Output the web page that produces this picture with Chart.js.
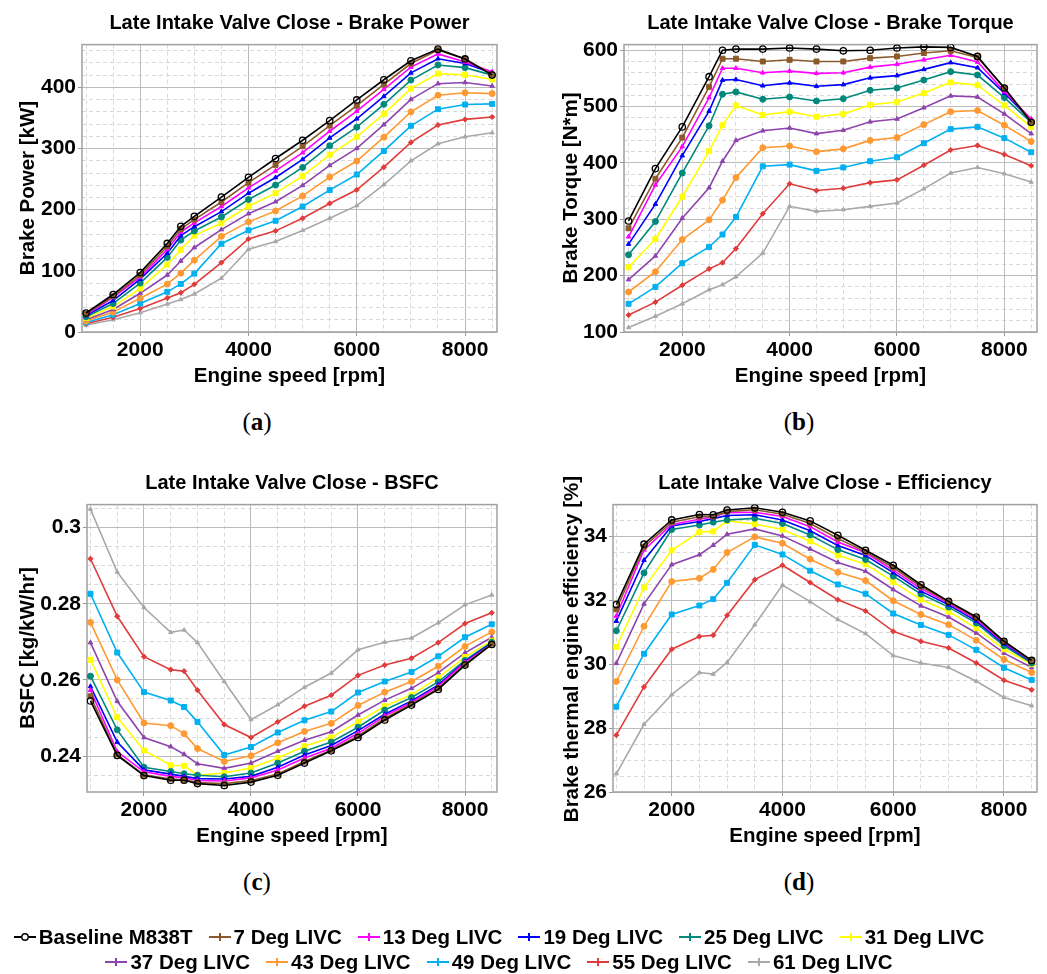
<!DOCTYPE html>
<html><head><meta charset="utf-8">
<script src="https://cdn.jsdelivr.net/npm/chart.js@4"></script>
<style>
body{margin:0;background:#fff;width:1047px;height:974px;position:relative;overflow:hidden;font-family:"Liberation Sans",Arial,sans-serif;color:#000;}
canvas{position:absolute;}
.ttl{position:absolute;text-align:center;font-weight:bold;font-size:20px;line-height:24px;white-space:nowrap;}
.ytl{position:absolute;text-align:center;font-weight:bold;font-size:20.5px;line-height:24px;white-space:nowrap;width:420px;transform:rotate(-90deg);}
.cap{position:absolute;font-family:"Liberation Serif","Times New Roman",serif;font-size:25px;line-height:28px;text-align:center;width:60px;}
#legend{position:absolute;left:0;top:924px;width:998px;font-weight:bold;font-size:20.5px;}
.row{display:flex;justify-content:center;align-items:center;height:25px;}
.item{display:flex;align-items:center;margin:0 8px;white-space:nowrap;}
.item svg{margin-right:3px;}
</style>
</head><body>
<canvas id="cA" width="520" height="365" style="left:0;top:30px"></canvas>
<canvas id="cB" width="527" height="365" style="left:520px;top:30px"></canvas>
<canvas id="cC" width="520" height="365" style="left:0;top:490px"></canvas>
<canvas id="cD" width="527" height="365" style="left:520px;top:490px"></canvas>

<div class="ttl" style="left:82px;width:415px;top:10px">Late Intake Valve Close - Brake Power</div>
<div class="ttl" style="left:624px;width:413px;top:10px">Late Intake Valve Close - Brake Torque</div>
<div class="ttl" style="left:87px;width:410px;top:470px">Late Intake Valve Close - BSFC</div>
<div class="ttl" style="left:613px;width:424px;top:470px">Late Intake Valve Close - Efficiency</div>

<div class="ytl" style="left:-183px;top:176px">Brake Power [kW]</div>
<div class="ytl" style="left:360px;top:176px">Brake Torque [N*m]</div>
<div class="ytl" style="left:-183px;top:636px">BSFC [kg/kW/hr]</div>
<div class="ytl" style="left:361px;top:637px">Brake thermal engine efficiency [%]</div>

<div class="cap" style="left:227px;top:408px">(<b>a</b>)</div>
<div class="cap" style="left:769px;top:408px">(<b>b</b>)</div>
<div class="cap" style="left:227px;top:868px">(<b>c</b>)</div>
<div class="cap" style="left:769px;top:868px">(<b>d</b>)</div>

<div id="legend"></div>

<script>
const rpm = [1000,1500,2000,2500,2750,3000,3500,4000,4500,5000,5500,6000,6500,7000,7500,8000,8500];
const seriesNames = ['Baseline M838T','7 Deg LIVC','13 Deg LIVC','19 Deg LIVC','25 Deg LIVC','31 Deg LIVC','37 Deg LIVC','43 Deg LIVC','49 Deg LIVC','55 Deg LIVC','61 Deg LIVC'];

const brakePower = [
 [31.1,61.3,97.2,144.8,172.8,189.1,220.6,253.0,283.7,313.6,345.6,379.5,412.5,443.5,462.6,446.5,420.1],
 [29.7,58.4,93.2,140.1,168.5,183.8,212.6,244.2,273.3,303.7,337.5,370.1,405.0,439.1,461.0,446.5,421.0],
 [28.2,56.7,89.9,135.1,163.6,178.4,205.3,235.8,263.4,293.2,328.3,361.3,396.8,433.2,454.7,441.5,425.5],
 [26.8,51.4,86.5,128.8,157.5,172.2,196.8,227.0,252.6,282.2,317.4,348.7,385.3,423.7,446.9,439.0,423.7],
 [24.8,46.5,80.0,122.0,150.3,165.2,188.0,216.6,240.3,269.1,304.7,334.9,372.3,412.0,436.7,432.3,420.1],
 [22.5,41.6,71.2,110.2,134.5,157.7,177.8,205.7,227.1,255.0,289.7,319.2,356.7,398.0,422.5,420.6,413.0],
 [20.2,36.9,63.3,93.2,116.1,138.2,167.5,193.5,213.0,239.8,272.4,300.3,339.0,380.4,406.1,408.0,402.3],
 [17.9,32.5,55.3,78.3,96.2,117.5,156.5,180.1,197.9,222.5,253.4,279.6,318.6,359.9,387.2,391.2,389.9],
 [15.7,28.3,46.5,65.7,78.6,95.5,144.4,166.3,181.9,205.3,232.1,257.6,296.1,337.2,364.4,372.0,373.0],
 [13.6,24.0,38.3,55.5,64.2,77.9,113.6,152.1,165.4,185.9,210.2,232.5,269.5,310.1,338.5,347.7,351.6],
 [11.3,20.1,31.4,45.8,53.0,62.2,88.0,135.3,148.0,166.0,186.0,206.7,241.0,280.0,307.9,319.2,325.8]
];
const brakeTorque = [
 [297,390,464,553,600,602,602,604,602,599,600,604,606,605,589,533,472],
 [284,372,445,535,585,585,580,583,580,580,586,589,595,599,587,533,473],
 [269,361,429,516,568,568,560,563,559,560,570,575,583,591,579,527,478],
 [256,327,413,492,547,548,537,542,536,539,551,555,566,578,569,524,476],
 [237,296,382,466,522,526,513,517,510,514,529,533,547,562,556,516,472],
 [215,265,340,421,467,502,485,491,482,487,503,508,524,543,538,502,464],
 [193,235,302,356,403,440,457,462,452,458,473,478,498,519,517,487,452],
 [171,207,264,299,334,374,427,430,420,425,440,445,468,491,493,467,438],
 [150,180,222,251,273,304,394,397,386,392,403,410,435,460,464,444,419],
 [130,153,183,212,223,248,310,363,351,355,365,370,396,423,431,415,395],
 [108,128,150,175,184,198,240,323,314,317,323,329,354,382,392,381,366]
];
const bsfc = [
 [0.2545,0.2402,0.2349,0.2337,0.2337,0.2328,0.2323,0.2332,0.2350,0.2382,0.2414,0.2449,0.2495,0.2534,0.2575,0.2639,0.2693],
 [0.2557,0.2404,0.2351,0.2340,0.2338,0.2331,0.2328,0.2336,0.2353,0.2386,0.2416,0.2453,0.2499,0.2537,0.2578,0.2641,0.2695],
 [0.2573,0.2412,0.2359,0.2347,0.2343,0.2336,0.2335,0.2343,0.2364,0.2395,0.2421,0.2460,0.2505,0.2541,0.2583,0.2646,0.2694],
 [0.2583,0.2437,0.2364,0.2353,0.2347,0.2341,0.2340,0.2347,0.2371,0.2403,0.2428,0.2467,0.2510,0.2545,0.2587,0.2648,0.2697],
 [0.2610,0.2469,0.2371,0.2360,0.2354,0.2350,0.2346,0.2356,0.2382,0.2413,0.2437,0.2476,0.2521,0.2554,0.2595,0.2651,0.2699],
 [0.2653,0.2502,0.2415,0.2376,0.2375,0.2350,0.2356,0.2369,0.2395,0.2426,0.2449,0.2490,0.2531,0.2561,0.2606,0.2660,0.2703],
 [0.2698,0.2544,0.2449,0.2425,0.2405,0.2380,0.2368,0.2382,0.2413,0.2442,0.2464,0.2508,0.2547,0.2578,0.2619,0.2671,0.2712],
 [0.2751,0.2600,0.2487,0.2480,0.2459,0.2420,0.2386,0.2401,0.2435,0.2465,0.2486,0.2533,0.2568,0.2596,0.2636,0.2688,0.2726],
 [0.2826,0.2672,0.2568,0.2546,0.2529,0.2490,0.2403,0.2424,0.2462,0.2494,0.2517,0.2567,0.2596,0.2621,0.2662,0.2712,0.2746],
 [0.2918,0.2767,0.2661,0.2627,0.2623,0.2573,0.2483,0.2449,0.2490,0.2531,0.2560,0.2612,0.2639,0.2657,0.2698,0.2748,0.2776],
 [0.3048,0.2883,0.2790,0.2725,0.2731,0.2698,0.2596,0.2496,0.2535,0.2581,0.2618,0.2679,0.2699,0.2710,0.2750,0.2797,0.2823]
];
const efficiency = [
 [31.87,33.76,34.52,34.69,34.68,34.83,34.90,34.76,34.49,34.04,33.57,33.10,32.49,31.97,31.48,30.72,30.12],
 [31.72,33.68,34.45,34.62,34.62,34.78,34.84,34.70,34.41,33.94,33.52,33.03,32.43,31.95,31.45,30.71,30.10],
 [31.51,33.58,34.38,34.54,34.61,34.75,34.76,34.63,34.31,33.83,33.49,32.95,32.37,31.91,31.41,30.68,30.10],
 [31.35,33.26,34.33,34.47,34.56,34.66,34.68,34.52,34.18,33.72,33.41,32.87,32.29,31.86,31.35,30.64,30.08],
 [31.05,32.86,34.22,34.36,34.45,34.52,34.57,34.41,34.05,33.59,33.28,32.76,32.20,31.79,31.29,30.58,30.04],
 [30.54,32.40,33.57,34.14,34.16,34.49,34.39,34.22,33.85,33.41,33.13,32.58,32.03,31.65,31.13,30.47,30.00],
 [30.03,31.89,33.12,33.43,33.73,34.07,34.24,34.02,33.61,33.19,32.91,32.34,31.83,31.48,30.98,30.35,29.90],
 [29.46,31.19,32.59,32.69,32.97,33.50,33.99,33.79,33.29,32.88,32.62,31.99,31.56,31.24,30.75,30.15,29.74],
 [28.67,30.33,31.56,31.84,32.04,32.55,33.74,33.44,32.93,32.50,32.21,31.59,31.23,30.92,30.45,29.89,29.51],
 [27.78,29.29,30.47,30.87,30.91,31.53,32.65,33.10,32.56,32.02,31.67,31.03,30.72,30.51,30.04,29.50,29.20],
 [26.57,28.12,29.05,29.74,29.69,30.06,31.24,32.48,31.96,31.40,30.96,30.27,30.04,29.90,29.47,28.96,28.70]
];

const xTicks = [2000,4000,6000,8000];
const xMinorTicks = [1000,1500,2000,2500,3000,3500,4000,4500,5000,5500,6000,6500,7000,7500,8000,8500];
const powerTicks = [0,100,200,300,400];
const torqueTicks = [100,200,300,400,500,600];
const bsfcTicks = [0.24,0.26,0.28,0.30];
const effTicks = [26,28,30,32,34];

// styles
const colors = ['#000000','#8B5A2B','#FF00FF','#0000FF','#00897B','#FFFF00','#8E44AD','#FF9933','#00B0F0','#E03C3C','#A9A9A9'];
const pointStyles = ['circle','rect','triangle','triangle','circle','rect','triangle','circle','rect','rectRot','triangle'];
const pointRadii = [3.2,3.5,2.6,2.6,3,3.5,2.6,3,3.5,2.6,2.4];

const tickFont = {family:'"Liberation Sans", Arial, sans-serif', size:21, weight:'bold'};
const xTitleFont = {family:'"Liberation Sans", Arial, sans-serif', size:20.5, weight:'bold'};
const fmt = v => String(+(+v).toFixed(4));

const framePlugin = {
  id:'frame',
  beforeDatasetsDraw(chart){
    const {ctx, chartArea:a} = chart;
    ctx.save();
    ctx.strokeStyle = '#a0a0a0';
    ctx.lineWidth = 1.5;
    ctx.strokeRect(a.left, a.top, a.right-a.left, a.bottom-a.top);
    ctx.restore();
  }
};

function minorList(lo, hi, step){
  const out=[]; for(let v=lo; v<=hi+1e-9; v+=step) out.push(+v.toFixed(6)); return out;
}

function makeChart(id, values, cfg){
  const datasets = values.map((vals,s)=>({
    label: seriesNames[s],
    data: rpm.map((x,i)=>({x, y: vals[i]})),
    borderColor: colors[s],
    backgroundColor: s===0 ? 'rgba(255,255,255,0)' : colors[s],
    pointBackgroundColor: s===0 ? 'rgba(255,255,255,0)' : colors[s],
    pointBorderColor: colors[s],
    pointStyle: pointStyles[s],
    pointRadius: pointRadii[s],
    pointBorderWidth: s===0 ? 1.3 : 1,
    borderWidth: 1.6,
    tension: 0,
    fill: false
  }));
  const yMinor = minorList(cfg.yTicks[0]-cfg.yStep*5, cfg.yMax, cfg.yStep).filter(v=>v>=cfg.yMin);
  return new Chart(document.getElementById(id), {
    type:'line',
    data:{datasets},
    options:{
      responsive:false, animation:false, devicePixelRatio:1,
      layout:{padding:{top:cfg.padTop, right:cfg.padRight, left:0, bottom:0}},
      plugins:{legend:{display:false}, tooltip:{enabled:false}},
      scales:{
        x:{type:'linear', position:'bottom', min:cfg.xMin, max:cfg.xMax,
           afterBuildTicks:s=>{s.ticks = xTicks.map(v=>({value:v}));},
           afterFit:s=>{s.height = cfg.xH;},
           ticks:{font:tickFont, color:'#000', padding:2, maxRotation:0, autoSkip:false, callback:fmt},
           grid:{color:'#bcbcbc', lineWidth:1, tickLength:4, tickColor:'#999'},
           border:{display:false},
           title:{display:true, text:'Engine speed [rpm]', font:xTitleFont, color:'#000', padding:{top:0,bottom:6}}},
        xm:{type:'linear', position:'bottom', min:cfg.xMin, max:cfg.xMax,
           afterBuildTicks:s=>{s.ticks = xMinorTicks.map(v=>({value:v}));},
           afterFit:s=>{s.height = 0;},
           ticks:{display:false},
           grid:{color:'#d9d9d9', lineWidth:1, drawTicks:false, z:-2},
           border:{display:false, dash:[4,3]}},
        y:{type:'linear', position:'left', min:cfg.yMin, max:cfg.yMax,
           afterBuildTicks:s=>{s.ticks = cfg.yTicks.map(v=>({value:v}));},
           afterFit:s=>{s.width = cfg.yW;},
           ticks:{font:tickFont, color:'#000', padding:2, callback:fmt},
           grid:{color:'#bcbcbc', lineWidth:1, tickLength:4, tickColor:'#999'},
           border:{display:false}},
        ym:{type:'linear', position:'left', min:cfg.yMin, max:cfg.yMax,
           afterBuildTicks:s=>{s.ticks = yMinor.map(v=>({value:v}));},
           afterFit:s=>{s.width = 0;},
           ticks:{display:false},
           grid:{color:'#d9d9d9', lineWidth:1, drawTicks:false, z:-2},
           border:{display:false, dash:[4,3]}}
      }
    },
    plugins:[framePlugin]
  });
}

makeChart('cA', brakePower, {xMin:925, xMax:8590, yMin:0, yMax:470, yTicks:powerTicks, yStep:20, yW:82, xH:63, padTop:14, padRight:23});
makeChart('cB', brakeTorque, {xMin:915, xMax:8608, yMin:100, yMax:610, yTicks:torqueTicks, yStep:20, yW:104, xH:63, padTop:14, padRight:10});
makeChart('cC', bsfc, {xMin:935, xMax:8598, yMin:0.2306, yMax:0.306, yTicks:bsfcTicks, yStep:0.005, yW:87, xH:63, padTop:13, padRight:23});
makeChart('cD', efficiency, {xMin:940, xMax:8596, yMin:26, yMax:35, yTicks:effTicks, yStep:0.5, yW:93, xH:63, padTop:13, padRight:10});

// legend
function legendSymbol(s){
  const c = colors[s];
  let mk;
  if (s===0) mk = `<circle cx="11" cy="7" r="3.2" fill="#fff" stroke="${c}" stroke-width="1.4"/>`;
  else mk = `<line x1="11" y1="3" x2="11" y2="11" stroke="${c}" stroke-width="2"/>`;
  return `<svg width="22" height="14" viewBox="0 0 22 14"><line x1="0" y1="7" x2="22" y2="7" stroke="${c}" stroke-width="2"/>${mk}</svg>`;
}
const legendRows = [[0,1,2,3,4,5],[6,7,8,9,10]];
const leg = document.getElementById('legend');
leg.innerHTML = legendRows.map(r=>'<div class="row">'+r.map(s=>`<span class="item">${legendSymbol(s)}${seriesNames[s]}</span>`).join('')+'</div>').join('');
</script>
</body></html>
